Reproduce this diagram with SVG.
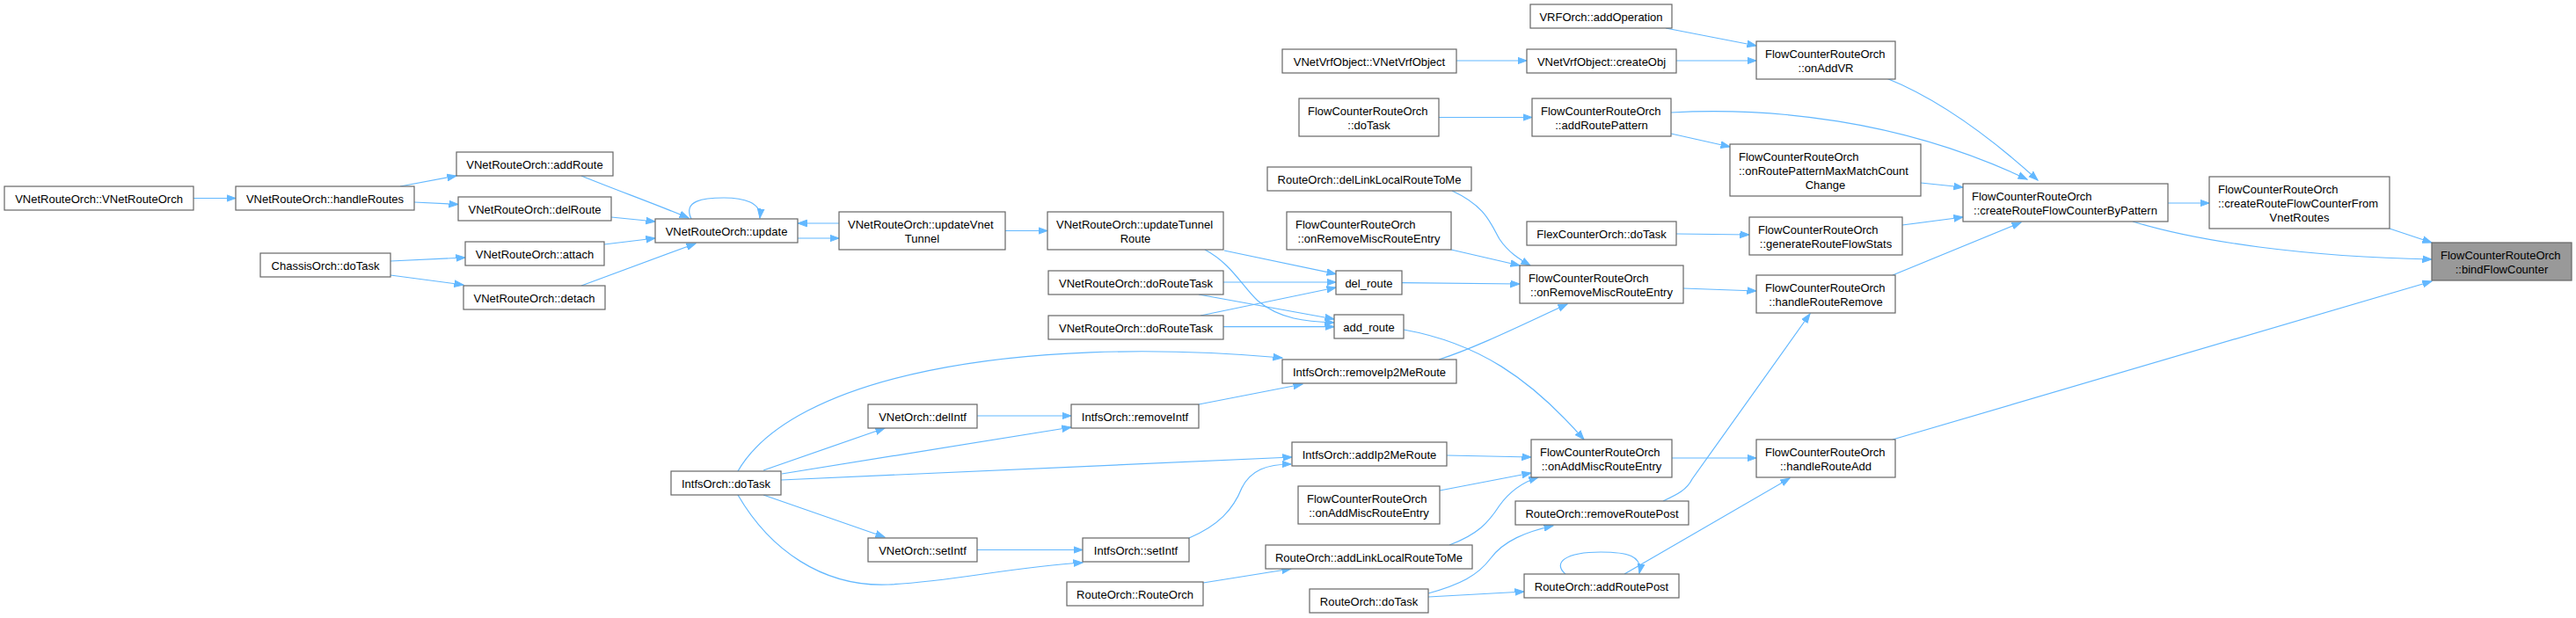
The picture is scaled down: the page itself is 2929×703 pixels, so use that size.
<svg xmlns="http://www.w3.org/2000/svg" width="2929" height="703" viewBox="0 0 2929 703">
<style>
.n rect{fill:#ffffff;stroke:#666666;stroke-width:1.2}
.n.m rect{fill:#999999}
text{font-family:"Liberation Sans",Arial,sans-serif;font-size:13px;fill:#000000}
.c{text-anchor:middle}
#edges path{fill:none;stroke:#63b8ff;stroke-width:1.2;marker-end:url(#a)}
</style>
<defs>
<marker id="a" markerUnits="userSpaceOnUse" markerWidth="12" markerHeight="10" viewBox="0 -5 12 10" refX="10.5" refY="0" orient="auto">
<path d="M0,-3.8 L10.5,0 L0,3.8 z" fill="#63b8ff" stroke="#63b8ff" stroke-width="1"/>
</marker>
</defs>
<rect width="2929" height="703" fill="#ffffff"/>
<g id="edges">
<path d="M220,225.5 L268,225.5"/>
<path d="M455,212 L519,200"/>
<path d="M471,230 L521,232.5"/>
<path d="M444,297 L529,293"/>
<path d="M444,313 L527,324"/>
<path d="M661,200 C700,216 745,232 783,248"/>
<path d="M695,247 L745,252"/>
<path d="M687,278 L745,271"/>
<path d="M661,325 L791,277"/>
<path d="M786,249 C776,228 800,225 823,225 C845,225 866,230 864,248"/>
<path d="M907,271 L954,271"/>
<path d="M954,254 L907,254"/>
<path d="M1143,262.5 L1191,262.5"/>
<path d="M1392,285 L1519,311.7"/>
<path d="M1370,284 C1400,300 1412,325 1430,342 C1455,363 1485,366 1517,367"/>
<path d="M1391,321 L1519,321"/>
<path d="M1365,359 L1519,327"/>
<path d="M1363,335 L1517,363"/>
<path d="M1391,371.7 L1517,371.7"/>
<path d="M1594,321.7 L1728,323"/>
<path d="M1651,217 C1690,235 1695,255 1705,272 C1715,287 1728,295 1740,302"/>
<path d="M1650,284 L1728,302"/>
<path d="M1636,409 C1680,395 1740,365 1782,346"/>
<path d="M1914,328 L1997,331"/>
<path d="M1596,375 C1680,390 1740,430 1801,500"/>
<path d="M1645,518 L1741,520"/>
<path d="M1637,558 L1741,538"/>
<path d="M1648,620 C1680,608 1692,595 1705,575 C1718,557 1733,548 1749,543"/>
<path d="M1901,521 L1997,521"/>
<path d="M1891,570 C1908,562 1918,557 1924,545 L2058,357"/>
<path d="M1624,675 C1660,665 1680,655 1695,635 C1710,615 1735,605 1766,598"/>
<path d="M1624,679 L1733,673"/>
<path d="M1780,653 C1765,640 1780,628 1820,628 C1850,628 1868,632 1864,652"/>
<path d="M1847,653 L2035,544"/>
<path d="M2152,313 L2298,253"/>
<path d="M2152,500 L2765,320"/>
<path d="M2465,231 L2512,231"/>
<path d="M2717,260 L2765,276"/>
<path d="M2425,252 C2500,275 2620,292 2765,295"/>
<path d="M2163,256 L2232,247"/>
<path d="M2184,208 L2232,213"/>
<path d="M1900,128 C2010,122 2160,135 2305,204"/>
<path d="M2145,89 C2185,105 2240,135 2317,205"/>
<path d="M1894,32 L1997,52"/>
<path d="M1906,69 L1997,69"/>
<path d="M1656,69 L1736,69"/>
<path d="M1636,133.5 L1742,133.5"/>
<path d="M1900,152 L1967,167"/>
<path d="M1906,266 L1989,267"/>
<path d="M839,536 C900,430 1150,380 1458,407"/>
<path d="M868,535 L1006,487"/>
<path d="M889,539 L1218,486"/>
<path d="M888,546 L1469,520"/>
<path d="M868,563 L1006,611"/>
<path d="M839,563 C875,625 935,668 1010,665 C1080,662 1150,645 1231,640"/>
<path d="M1111,473 L1218,473"/>
<path d="M1111,625.5 L1231,625.5"/>
<path d="M1363,460 L1481,437"/>
<path d="M1352,612 C1385,598 1402,580 1412,555 C1422,535 1440,528 1468,528"/>
<path d="M1368,663 L1468,647"/>
</g>
<g id="n1" class="n"><rect x="5" y="212" width="215" height="27"/><text class="c" x="112.5" y="230.5">VNetRouteOrch::VNetRouteOrch</text></g>
<g id="n2" class="n"><rect x="268" y="212" width="203" height="27"/><text class="c" x="369.5" y="230.5">VNetRouteOrch::handleRoutes</text></g>
<g id="n3" class="n"><rect x="519" y="173" width="178" height="27"/><text class="c" x="608" y="191.5">VNetRouteOrch::addRoute</text></g>
<g id="n4" class="n"><rect x="521" y="224" width="174" height="27"/><text class="c" x="608" y="242.5">VNetRouteOrch::delRoute</text></g>
<g id="n5" class="n"><rect x="529" y="275" width="158" height="27"/><text class="c" x="608" y="293.5">VNetRouteOrch::attach</text></g>
<g id="n6" class="n"><rect x="527" y="325" width="161" height="27"/><text class="c" x="607.5" y="343.5">VNetRouteOrch::detach</text></g>
<g id="n7" class="n"><rect x="296" y="288" width="148" height="27"/><text class="c" x="370" y="306.5">ChassisOrch::doTask</text></g>
<g id="n8" class="n"><rect x="745" y="249" width="162" height="27"/><text class="c" x="826" y="267.5">VNetRouteOrch::update</text></g>
<g id="n9" class="n"><rect x="954" y="241" width="189" height="43"/><text x="964" y="260">VNetRouteOrch::updateVnet</text><text class="c" x="1048.5" y="276">Tunnel</text></g>
<g id="n10" class="n"><rect x="1191" y="241" width="200" height="43"/><text x="1201" y="260">VNetRouteOrch::updateTunnel</text><text class="c" x="1291" y="276">Route</text></g>
<g id="n11" class="n"><rect x="1192" y="308" width="199" height="27"/><text class="c" x="1291.5" y="326.5">VNetRouteOrch::doRouteTask</text></g>
<g id="n12" class="n"><rect x="1192" y="359" width="199" height="27"/><text class="c" x="1291.5" y="377.5">VNetRouteOrch::doRouteTask</text></g>
<g id="n13" class="n"><rect x="1441" y="190" width="232" height="27"/><text class="c" x="1557" y="208.5">RouteOrch::delLinkLocalRouteToMe</text></g>
<g id="n14" class="n"><rect x="1463" y="241" width="187" height="43"/><text x="1473" y="260">FlowCounterRouteOrch</text><text class="c" x="1556.5" y="276">::onRemoveMiscRouteEntry</text></g>
<g id="n15" class="n"><rect x="1519" y="308" width="75" height="27"/><text class="c" x="1556.5" y="326.5">del_route</text></g>
<g id="n16" class="n"><rect x="1517" y="358" width="79" height="27"/><text class="c" x="1556.5" y="376.5">add_route</text></g>
<g id="n17" class="n"><rect x="1458" y="409" width="198" height="27"/><text class="c" x="1557" y="427.5">IntfsOrch::removeIp2MeRoute</text></g>
<g id="n18" class="n"><rect x="1458" y="56" width="198" height="27"/><text class="c" x="1557" y="74.5">VNetVrfObject::VNetVrfObject</text></g>
<g id="n19" class="n"><rect x="1477" y="112" width="159" height="43"/><text x="1487" y="131">FlowCounterRouteOrch</text><text class="c" x="1556.5" y="147">::doTask</text></g>
<g id="n20" class="n"><rect x="1740" y="5" width="161" height="27"/><text class="c" x="1820.5" y="23.5">VRFOrch::addOperation</text></g>
<g id="n21" class="n"><rect x="1736" y="56" width="170" height="27"/><text class="c" x="1821" y="74.5">VNetVrfObject::createObj</text></g>
<g id="n22" class="n"><rect x="1742" y="112" width="158" height="43"/><text x="1752" y="131">FlowCounterRouteOrch</text><text class="c" x="1821" y="147">::addRoutePattern</text></g>
<g id="n23" class="n"><rect x="1997" y="47" width="158" height="43"/><text x="2007" y="66">FlowCounterRouteOrch</text><text class="c" x="2076" y="82">::onAddVR</text></g>
<g id="n24" class="n"><rect x="1967" y="164" width="217" height="59"/><text x="1977" y="183">FlowCounterRouteOrch</text><text x="1977" y="199">::onRoutePatternMaxMatchCount</text><text class="c" x="2075.5" y="215">Change</text></g>
<g id="n25" class="n"><rect x="1736" y="252" width="170" height="27"/><text class="c" x="1821" y="270.5">FlexCounterOrch::doTask</text></g>
<g id="n26" class="n"><rect x="1989" y="247" width="174" height="43"/><text x="1999" y="266">FlowCounterRouteOrch</text><text class="c" x="2076" y="282">::generateRouteFlowStats</text></g>
<g id="n27" class="n"><rect x="1728" y="302" width="186" height="43"/><text x="1738" y="321">FlowCounterRouteOrch</text><text class="c" x="1821" y="337">::onRemoveMiscRouteEntry</text></g>
<g id="n28" class="n"><rect x="1997" y="313" width="158" height="43"/><text x="2007" y="332">FlowCounterRouteOrch</text><text class="c" x="2076" y="348">::handleRouteRemove</text></g>
<g id="n29" class="n"><rect x="2232" y="209" width="233" height="43"/><text x="2242" y="228">FlowCounterRouteOrch</text><text class="c" x="2348.5" y="244">::createRouteFlowCounterByPattern</text></g>
<g id="n30" class="n"><rect x="2512" y="201" width="205" height="59"/><text x="2522" y="220">FlowCounterRouteOrch</text><text x="2522" y="236">::createRouteFlowCounterFrom</text><text class="c" x="2614.5" y="252">VnetRoutes</text></g>
<g id="n31" class="n m"><rect x="2765" y="276" width="159" height="43"/><text x="2775" y="295">FlowCounterRouteOrch</text><text class="c" x="2844.5" y="311">::bindFlowCounter</text></g>
<g id="n32" class="n"><rect x="1741" y="500" width="160" height="43"/><text x="1751" y="519">FlowCounterRouteOrch</text><text class="c" x="1821" y="535">::onAddMiscRouteEntry</text></g>
<g id="n33" class="n"><rect x="1997" y="500" width="158" height="43"/><text x="2007" y="519">FlowCounterRouteOrch</text><text class="c" x="2076" y="535">::handleRouteAdd</text></g>
<g id="n34" class="n"><rect x="1469" y="503" width="176" height="27"/><text class="c" x="1557" y="521.5">IntfsOrch::addIp2MeRoute</text></g>
<g id="n35" class="n"><rect x="1476" y="553" width="161" height="43"/><text x="1486" y="572">FlowCounterRouteOrch</text><text class="c" x="1556.5" y="588">::onAddMiscRouteEntry</text></g>
<g id="n36" class="n"><rect x="1723" y="570" width="197" height="27"/><text class="c" x="1821.5" y="588.5">RouteOrch::removeRoutePost</text></g>
<g id="n37" class="n"><rect x="1439" y="620" width="235" height="27"/><text class="c" x="1556.5" y="638.5">RouteOrch::addLinkLocalRouteToMe</text></g>
<g id="n38" class="n"><rect x="1733" y="653" width="176" height="27"/><text class="c" x="1821" y="671.5">RouteOrch::addRoutePost</text></g>
<g id="n39" class="n"><rect x="1489" y="670" width="135" height="27"/><text class="c" x="1556.5" y="688.5">RouteOrch::doTask</text></g>
<g id="n40" class="n"><rect x="763" y="536" width="125" height="27"/><text class="c" x="825.5" y="554.5">IntfsOrch::doTask</text></g>
<g id="n41" class="n"><rect x="987" y="460" width="124" height="27"/><text class="c" x="1049" y="478.5">VNetOrch::delIntf</text></g>
<g id="n42" class="n"><rect x="1218" y="460" width="145" height="27"/><text class="c" x="1290.5" y="478.5">IntfsOrch::removeIntf</text></g>
<g id="n43" class="n"><rect x="987" y="612" width="124" height="27"/><text class="c" x="1049" y="630.5">VNetOrch::setIntf</text></g>
<g id="n44" class="n"><rect x="1231" y="612" width="121" height="27"/><text class="c" x="1291.5" y="630.5">IntfsOrch::setIntf</text></g>
<g id="n45" class="n"><rect x="1213" y="662" width="155" height="27"/><text class="c" x="1290.5" y="680.5">RouteOrch::RouteOrch</text></g>
</svg>
